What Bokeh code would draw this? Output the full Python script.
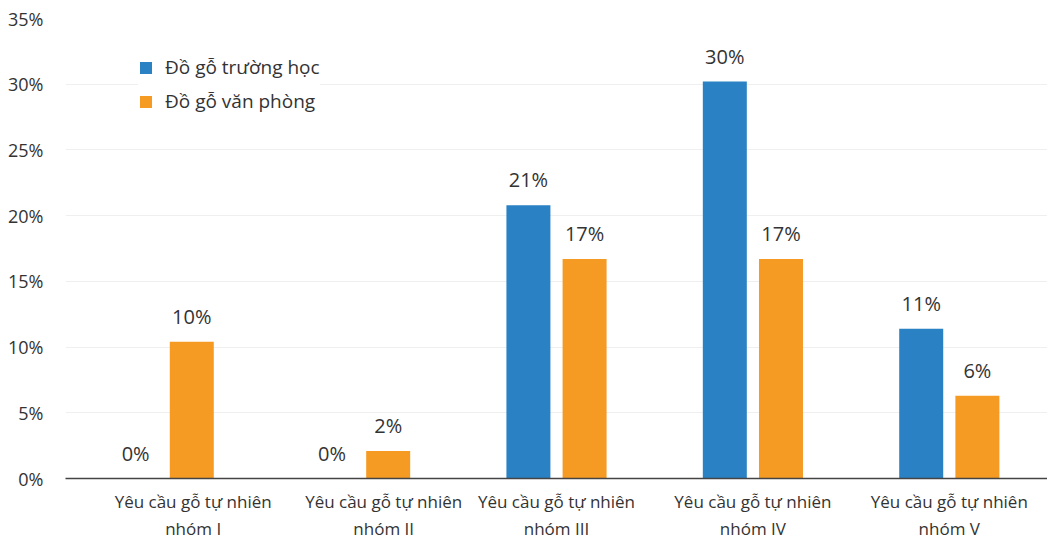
from bokeh.plotting import figure
from bokeh.models import ColumnDataSource, FixedTicker, Range1d, Legend, LegendItem
from bokeh.core.properties import value
from bokeh.embed import file_html
from bokeh.resources import INLINE

categories = ["Yêu cầu gỗ tự nhiên\nnhóm I", "Yêu cầu gỗ tự nhiên\nnhóm II",
              "Yêu cầu gỗ tự nhiên\nnhóm III", "Yêu cầu gỗ tự nhiên\nnhóm IV",
              "Yêu cầu gỗ tự nhiên\nnhóm V"]
series_names = ["Đồ gỗ trường học", "Đồ gỗ văn phòng"]
school = [0.0, 0.0, 20.8, 30.2, 11.4]
office = [10.4, 2.1, 16.7, 16.7, 6.3]
y_ticks = [0, 5, 10, 15, 20, 25, 30, 35]

BLUE = "#2a81c3"
ORANGE = "#f59a23"
TXT = "#333333"
FONT = "Open Sans"
label_shift = [0.15, 0.12, 0.0, 0.0, 0.0]
off = 0.143
bw = 0.224

idx = list(range(len(categories)))
src_s = ColumnDataSource(dict(x=[i - off for i in idx], top=school,
                              lab=[f"{round(v)}%" for v in school]))
src_o = ColumnDataSource(dict(x=[i + off for i in idx], top=office,
                              lab=[f"{round(v)}%" for v in office]))

p = figure(width=1047, height=543, output_backend="svg", toolbar_location=None,
           x_range=Range1d(-0.5, 4.5), y_range=Range1d(0, 35),
           min_border_left=65, min_border_right=0, min_border_top=18, min_border_bottom=64)
p.outline_line_color = None
p.background_fill_color = "white"
p.border_fill_color = "white"

rs = p.vbar(x="x", top="top", width=bw, source=src_s, fill_color=BLUE, line_color=None)
ro = p.vbar(x="x", top="top", width=bw, source=src_o, fill_color=ORANGE, line_color=None)

for src in (src_s, src_o):
    p.text(x="x", y="top", text="lab", source=src, text_align="center",
           text_baseline="bottom", y_offset=-12, text_font=value(FONT),
           text_font_size="20px", text_color=TXT)

# y axis
p.yaxis.ticker = FixedTicker(ticks=y_ticks)
p.yaxis.major_label_overrides = {t: f"{t}%" for t in y_ticks}
p.yaxis.axis_line_color = None
p.yaxis.major_tick_line_color = None
p.yaxis.minor_tick_line_color = None
p.yaxis.major_label_standoff = 16
p.yaxis.major_label_text_font = FONT
p.yaxis.major_label_text_font_size = "18px"
p.yaxis.major_label_text_color = TXT

# x axis
p.xaxis.ticker = FixedTicker(ticks=[i + s for i, s in zip(idx, label_shift)])
p.xaxis.major_label_overrides = {i + s: c for i, s, c in zip(idx, label_shift, categories)}
p.xaxis.axis_line_color = "#444444"
p.xaxis.axis_line_width = 1.5
p.xaxis.major_tick_line_color = None
p.xaxis.minor_tick_line_color = None
p.xaxis.major_tick_in = 0
p.xaxis.major_tick_out = 0
p.xaxis.major_label_standoff = 11
p.xaxis.major_label_text_font = FONT
p.xaxis.major_label_text_font_size = "17px"
p.xaxis.major_label_text_color = TXT

p.xgrid.grid_line_color = None
p.ygrid.grid_line_color = "#efefef"
p.ygrid.ticker = FixedTicker(ticks=y_ticks)

legend = Legend(items=[LegendItem(label=series_names[0], renderers=[rs]),
                       LegendItem(label=series_names[1], renderers=[ro])],
                location=(73, 364), orientation="vertical")
legend.border_line_color = None
legend.background_fill_color = "white"
legend.background_fill_alpha = 1.0
legend.margin = 0
legend.padding = 10
legend.glyph_width = 15
legend.glyph_height = 15
legend.label_height = 15
legend.spacing = 8
legend.label_standoff = 12
legend.label_text_font = FONT
legend.label_text_font_size = "19px"
legend.label_text_color = TXT
p.add_layout(legend, "center")

open("out.html", "w").write(file_html(p, INLINE))
